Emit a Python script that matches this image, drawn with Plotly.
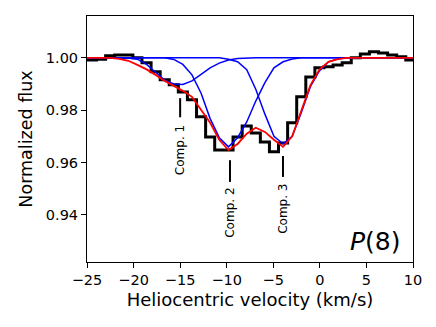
import plotly.graph_objects as go

# ---------------- data ----------------
velocity = [-25.44, -24.47, -23.49, -22.51, -21.54, -20.56, -19.59, -18.61, -17.63, -16.66,
            -15.68, -14.71, -13.73, -12.75, -11.78, -10.80, -9.81, -8.83, -7.85, -6.88,
            -5.90, -4.93, -3.95, -2.97, -2.00, -1.02, -0.05, 0.93, 1.91, 2.88,
            3.86, 4.83, 5.81, 6.79, 7.76, 8.74, 9.71, 10.69]

flux_obs = [0.9992, 0.9992, 0.9995, 1.0008, 1.0011, 1.0011, 1.0000, 0.9981, 0.9947, 0.9916,
            0.9897, 0.9870, 0.9840, 0.9775, 0.9698, 0.9648, 0.9648, 0.9698, 0.9740, 0.9713,
            0.9679, 0.9641, 0.9675, 0.9752, 0.9851, 0.9927, 0.9962, 0.9966, 0.9973, 0.9981,
            1.0000, 1.0015, 1.0023, 1.0019, 1.0011, 1.0004, 0.9992, 0.9992]

comp1 = [1.0, 1.0, 1.0, 1.0, 1.0, 0.9999, 0.9995, 0.9975, 0.9945, 0.9915,
         0.9900, 0.9898, 0.9912, 0.9938, 0.9962, 0.9980, 0.9992, 0.9998, 1.0, 1.0,
         1.0, 1.0, 1.0, 1.0, 1.0, 1.0, 1.0, 1.0, 1.0, 1.0,
         1.0, 1.0, 1.0, 1.0, 1.0, 1.0, 1.0, 1.0]

comp2 = [1.0, 1.0, 1.0, 1.0, 1.0, 1.0, 1.0, 1.0, 1.0, 1.0,
         0.9994, 0.9975, 0.9935, 0.9865, 0.9768, 0.9695, 0.9660, 0.9695, 0.9755, 0.9835,
         0.9905, 0.9962, 0.9985, 0.9996, 1.0, 1.0, 1.0, 1.0, 1.0, 1.0,
         1.0, 1.0, 1.0, 1.0, 1.0, 1.0, 1.0, 1.0]

comp3 = [1.0, 1.0, 1.0, 1.0, 1.0, 1.0, 1.0, 1.0, 1.0, 1.0,
         1.0, 1.0, 1.0, 1.0, 1.0, 1.0, 0.9995, 0.9985, 0.9955, 0.9880,
         0.9785, 0.9700, 0.9672, 0.9700, 0.9790, 0.9890, 0.9950, 0.9985, 0.9996, 1.0,
         1.0, 1.0, 1.0, 1.0, 1.0, 1.0, 1.0, 1.0]

model_total = [1.0, 1.0, 1.0, 1.0, 0.9996, 0.9989, 0.9973, 0.9956, 0.9935, 0.9912,
               0.9893, 0.9874, 0.9851, 0.9801, 0.9752, 0.9687, 0.9648, 0.9671, 0.9710, 0.9733,
               0.9717, 0.9687, 0.9660, 0.9700, 0.9800, 0.9895, 0.9955, 0.9985, 0.9995, 1.0,
               1.0, 1.0, 1.0, 1.0, 1.0, 1.0, 1.0, 1.0]

comp_velocity = [-15.0, -9.65, -3.96]
comp_labels = ["Comp. 1", "Comp. 2", "Comp. 3"]

x_tick_values = [-25, -20, -15, -10, -5, 0, 5, 10]
x_tick_labels = ["\u221225", "\u221220", "\u221215", "\u221210", "\u22125", "0", "5", "10"]
y_tick_values = [0.94, 0.96, 0.98, 1.00]
y_tick_labels = ["0.94", "0.96", "0.98", "1.00"]

transition_label = "<i>P</i>(8)"

# ---------------- layout constants ----------------
marker_line_y = [(0.9846, 0.9773), (0.9609, 0.9526), (0.9625, 0.9545)]
marker_text_y = [0.9648, 0.9408, 0.9423]
FONT = "DejaVu Sans"

fig = go.Figure()

fig.add_trace(go.Scatter(x=velocity, y=flux_obs, mode="lines",
                         line=dict(color="black", width=3, shape="hvh"),
                         hoverinfo="skip", showlegend=False))
for comp in (comp1, comp2, comp3):
    fig.add_trace(go.Scatter(x=velocity, y=comp, mode="lines",
                             line=dict(color="#0000ff", width=1.5),
                             hoverinfo="skip", showlegend=False))
fig.add_trace(go.Scatter(x=velocity, y=model_total, mode="lines",
                         line=dict(color="#ff0000", width=1.8),
                         hoverinfo="skip", showlegend=False))

shapes = []
annotations = []
for v, (y0, y1), ty, lab in zip(comp_velocity, marker_line_y, marker_text_y, comp_labels):
    shapes.append(dict(type="line", xref="x", yref="y", x0=v, x1=v, y0=y0, y1=y1,
                       line=dict(color="black", width=2)))
    annotations.append(dict(x=v, y=ty, xref="x", yref="y", text=lab, showarrow=False,
                            textangle=-90, font=dict(family=FONT, size=12, color="black"),
                            xanchor="center", yanchor="middle"))

annotations.append(dict(x=0.968, y=0.085, xref="paper", yref="paper", text=transition_label,
                        showarrow=False, xanchor="right", yanchor="middle",
                        font=dict(family=FONT, size=25, color="black")))

# the page body adds an 8px offset, so the figure is 428x319 with shifted margins
fig.update_layout(
    width=428, height=319,
    margin=dict(l=79, r=23, t=7.5, b=65, autoexpand=False),
    paper_bgcolor="white", plot_bgcolor="white",
    font=dict(family=FONT, color="black", size=14),
    shapes=shapes, annotations=annotations,
    showlegend=False,
)
fig.update_xaxes(range=[-25, 10], tickvals=x_tick_values, ticktext=x_tick_labels,
                 showgrid=False, zeroline=False, showline=True, linecolor="black", linewidth=1,
                 mirror=True, ticks="outside", ticklen=5, tickwidth=1, tickcolor="black",
                 tickfont=dict(family=FONT, size=14.5), automargin=False,
                 title=dict(text="Heliocentric velocity (km/s)", font=dict(family=FONT, size=18),
                            standoff=5))
fig.update_yaxes(range=[0.922, 1.016], tickvals=y_tick_values, ticktext=y_tick_labels,
                 showgrid=False, zeroline=False, showline=True, linecolor="black", linewidth=1,
                 mirror=True, ticks="outside", ticklen=5, tickwidth=1, tickcolor="black",
                 tickfont=dict(family=FONT, size=14.5), automargin=False,
                 title=dict(text="Normalized flux", font=dict(family=FONT, size=17.5), standoff=8))

fig.write_html("out.html")
